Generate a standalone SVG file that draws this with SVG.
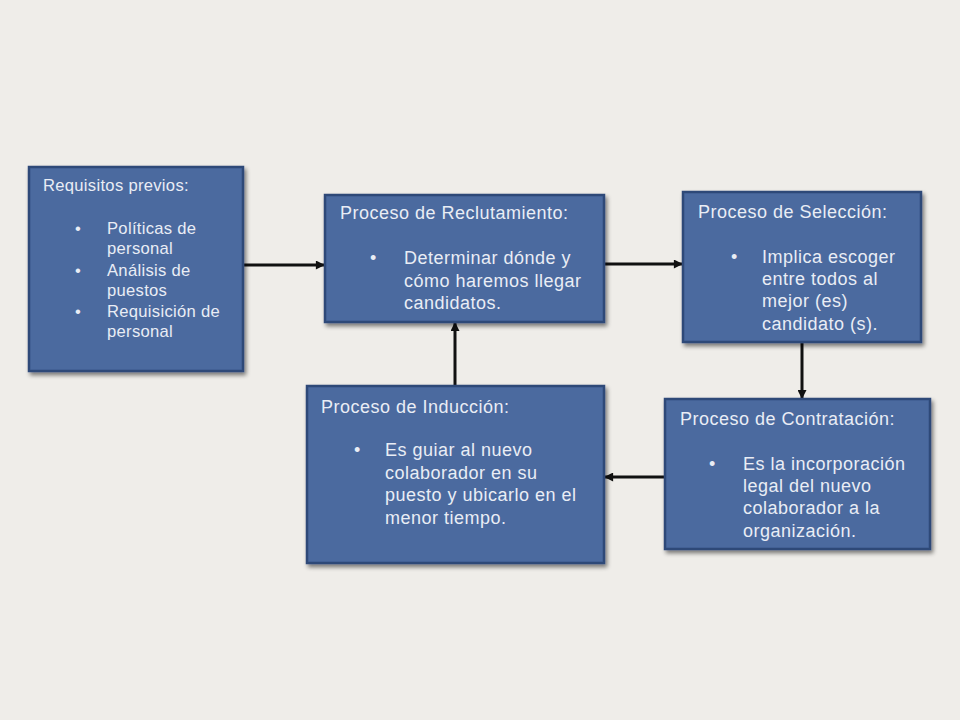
<svg xmlns="http://www.w3.org/2000/svg" width="960" height="720" viewBox="0 0 960 720">
<defs>
<marker id="ah" viewBox="0 0 10 10" refX="9" refY="5" markerWidth="10" markerHeight="9" orient="auto" markerUnits="userSpaceOnUse">
<path d="M0,0 L10,5 L0,10 z" fill="#111"/>
</marker>
<filter id="sh" x="-10%" y="-10%" width="130%" height="130%">
<feGaussianBlur in="SourceAlpha" stdDeviation="2"/>
<feOffset dx="2" dy="3" result="b"/>
<feComponentTransfer><feFuncA type="linear" slope="0.5"/></feComponentTransfer>
<feMerge><feMergeNode/><feMergeNode in="SourceGraphic"/></feMerge>
</filter>
</defs>
<style>
.box{fill:#4b6a9f;stroke:#2f4a78;stroke-width:2.5;filter:url(#sh)}
text{font-family:"Liberation Sans",Arial,sans-serif;font-size:18px;letter-spacing:0.5px;fill:#e9edf5}
#requisitos text{font-size:16.6px;letter-spacing:0.3px}
.conn{stroke:#111;stroke-width:3;fill:none;marker-end:url(#ah)}
</style>
<rect width="960" height="720" fill="#efede9"/>
<g id="connectors">
<line class="conn" x1="244" y1="265" x2="324" y2="265"/>
<line class="conn" x1="605" y1="264" x2="682" y2="264"/>
<line class="conn" x1="802" y1="343" x2="802" y2="398"/>
<line class="conn" x1="664" y1="477" x2="605" y2="477"/>
<line class="conn" x1="455" y1="385" x2="455" y2="323"/>
</g>
<g id="requisitos">
<rect class="box" x="29" y="167" width="214" height="204"/>
<text x="43" y="191">Requisitos previos:</text>
<text x="75" y="234">•</text><text x="107" y="234">Políticas de</text>
<text x="107" y="254">personal</text>
<text x="75" y="276">•</text><text x="107" y="276">Análisis de</text>
<text x="107" y="296">puestos</text>
<text x="75" y="317">•</text><text x="107" y="317">Requisición de</text>
<text x="107" y="337">personal</text>
</g>
<g id="reclutamiento">
<rect class="box" x="325" y="195" width="279" height="127"/>
<text x="340" y="219">Proceso de Reclutamiento:</text>
<text x="370" y="264">•</text><text x="404" y="264">Determinar dónde y</text>
<text x="404" y="287">cómo haremos llegar</text>
<text x="404" y="309">candidatos.</text>
</g>
<g id="seleccion">
<rect class="box" x="683" y="192" width="238" height="150"/>
<text x="698" y="218">Proceso de Selección:</text>
<text x="731" y="263">•</text><text x="762" y="263">Implica escoger</text>
<text x="762" y="285">entre todos al</text>
<text x="762" y="307">mejor (es)</text>
<text x="762" y="330">candidato (s).</text>
</g>
<g id="contratacion">
<rect class="box" x="665" y="399" width="265" height="150"/>
<text x="680" y="425">Proceso de Contratación:</text>
<text x="709" y="470">•</text><text x="743" y="470">Es la incorporación</text>
<text x="743" y="492">legal del nuevo</text>
<text x="743" y="514">colaborador a la</text>
<text x="743" y="537">organización.</text>
</g>
<g id="induccion">
<rect class="box" x="307" y="386" width="297" height="177"/>
<text x="321" y="413">Proceso de Inducción:</text>
<text x="354" y="456">•</text><text x="385" y="456">Es guiar al nuevo</text>
<text x="385" y="479">colaborador en su</text>
<text x="385" y="501">puesto y ubicarlo en el</text>
<text x="385" y="524">menor tiempo.</text>
</g>
</svg>
